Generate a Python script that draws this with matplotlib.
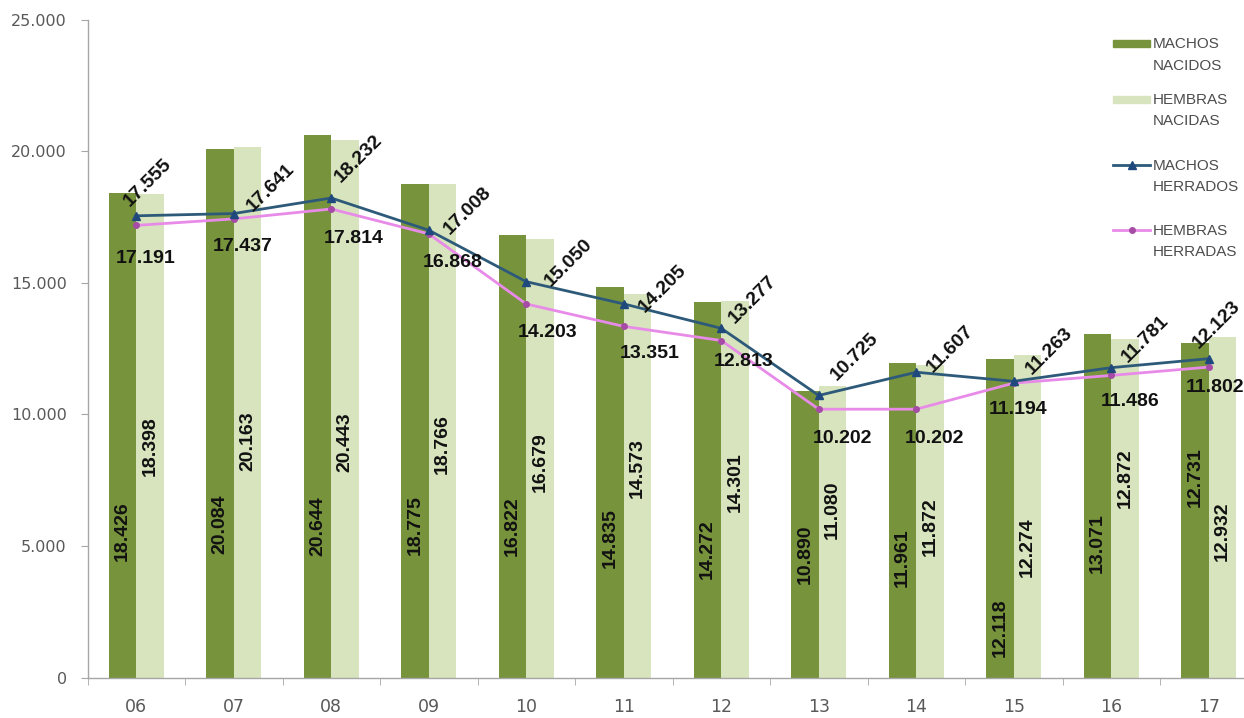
import matplotlib
matplotlib.use("Agg")
import matplotlib.pyplot as plt
from matplotlib.patches import Rectangle
from matplotlib.lines import Line2D
import numpy as np

# ---------------- data ----------------
years = ["06", "07", "08", "09", "10", "11", "12", "13", "14", "15", "16", "17"]
machos_nacidos = [18426, 20084, 20644, 18775, 16822, 14835, 14272, 10890, 11961, 12118, 13071, 12731]
hembras_nacidas = [18398, 20163, 20443, 18766, 16679, 14573, 14301, 11080, 11872, 12274, 12872, 12932]
machos_herrados = [17555, 17641, 18232, 17008, 15050, 14205, 13277, 10725, 11607, 11263, 11781, 12123]
hembras_herradas = [17191, 17437, 17814, 16868, 14203, 13351, 12813, 10202, 10202, 11194, 11486, 11802]
legend_labels = ["MACHOS\nNACIDOS", "HEMBRAS\nNACIDAS", "MACHOS\nHERRADOS", "HEMBRAS\nHERRADAS"]
yticks = [0, 5000, 10000, 15000, 20000, 25000]

# label placement (layout, not data)
mn_label_y = [5547, 5813, 5737, 5813, 5737, 5319, 4863, 4673, 4559, 1900, 5091, 7637]
hn_label_y = [8815, 8967, 8929, 8891, 8207, 7979, 7447, 6383, 5737, 4939, 7561, 5547]
mh_off = [(11, 33), (37, 26), (27, 39), (39, 19), (42, 19), (39, 15), (31, 29),
          (36, 39), (34, 23), (36, 30), (34, 29), (8, 34)]
hh_off = [(9, -33), (9, -28), (22, -30), (24, -29), (21, -29), (26, -27), (22, -21),
          (24, -29), (18, -29), (4, -26), (19, -26), (6, -20)]

C_MN = "#77933C"
C_HN = "#D7E4BD"
C_MH = "#2E5A7A"
C_MH_M = "#1F497D"
C_HH = "#E88BE8"
C_HH_M = "#A64CA6"
GRAY = "#595959"

def fmt(v):
    return f"{v:,}".replace(",", ".")

W, H = 1244, 718
fig = plt.figure(figsize=(W / 100, H / 100), dpi=100)
ax = fig.add_axes([87.5 / W, 40.5 / H, 1170 / W, 657.5 / H])

x = np.arange(len(years))
bw = 0.28
ax.bar(x - bw / 2, machos_nacidos, width=bw, color=C_MN, zorder=2)
ax.bar(x + bw / 2, hembras_nacidas, width=bw, color=C_HN, zorder=2)

ax.plot(x, hembras_herradas, color=C_HH, lw=2.0, marker="o", ms=4,
        mfc=C_HH_M, mec=C_HH_M, zorder=3)
ax.plot(x, machos_herrados, color=C_MH, lw=2.0, marker="^", ms=6,
        mfc=C_MH_M, mec=C_MH_M, zorder=4)

lab_font = dict(family="Liberation Sans", weight="bold", size=14, color="#111111")

for i in range(len(years)):
    ax.text(x[i] - bw / 2, mn_label_y[i], fmt(machos_nacidos[i]), rotation=90,
            ha="center", va="center", zorder=5, **lab_font)
    ax.text(x[i] + bw / 2, hn_label_y[i], fmt(hembras_nacidas[i]), rotation=90,
            ha="center", va="center", zorder=5, **lab_font)
    ax.annotate(fmt(machos_herrados[i]), (x[i], machos_herrados[i]),
                xytext=mh_off[i], textcoords="offset pixels", rotation=45,
                ha="center", va="center", zorder=6, **lab_font)
    ax.annotate(fmt(hembras_herradas[i]), (x[i], hembras_herradas[i]),
                xytext=hh_off[i], textcoords="offset pixels",
                ha="center", va="center", zorder=6, **lab_font)

ax.set_xlim(-0.5, len(years) - 0.5)
ax.set_ylim(0, 25000)
ax.set_yticks(yticks)
ax.set_yticklabels([fmt(v) for v in yticks], fontsize=11.5, color=GRAY,
                   family="DejaVu Sans")
ax.set_xticks(x)
ax.set_xticklabels(years, fontsize=12.5, color=GRAY, family="DejaVu Sans")
ax.set_xticks(np.arange(-0.5, len(years), 1), minor=True)
ax.tick_params(axis="x", which="major", length=0, pad=15)
ax.tick_params(axis="x", which="minor", length=5, color="#A6A6A6", direction="out")
ax.tick_params(axis="y", length=5, color="#A6A6A6", direction="out", pad=10)
for s in ["top", "right"]:
    ax.spines[s].set_visible(False)
for s in ["left", "bottom"]:
    ax.spines[s].set_color("#A6A6A6")
    ax.spines[s].set_linewidth(1.0)
ax.spines["left"].set_bounds(0, 25000)

# ---------------- legend (manual) ----------------
def fx(px):
    return px / W

def fy(py):
    return 1 - py / H

leg_font = dict(family="Liberation Sans", size=11,
                color="#4D4D4D", ha="left", va="center")
entry_y = [43.5, 99, 165, 230]
for k, lbl in enumerate(legend_labels):
    yc = entry_y[k]
    if k < 2:
        fig.add_artist(Rectangle((fx(1113), fy(yc + 3.5)), 37 / W, 7 / H,
                                 transform=fig.transFigure,
                                 color=[C_MN, C_HN][k]))
    else:
        col, mcol, mk, ms = [(C_MH, C_MH_M, "^", 6), (C_HH, C_HH_M, "o", 4)][k - 2]
        fig.add_artist(Line2D([fx(1113), fx(1150)], [fy(yc), fy(yc)],
                              transform=fig.transFigure, color=col, lw=2.0))
        fig.add_artist(Line2D([fx(1131.5)], [fy(yc)], transform=fig.transFigure,
                              marker=mk, ms=ms, mfc=mcol, mec=mcol, lw=0))
    l1, l2 = lbl.split("\n")
    fig.text(fx(1153), fy(yc + 1), l1, **leg_font)
    fig.text(fx(1153), fy(yc + 22), l2, **leg_font)

fig.savefig("out.png", dpi=100)
